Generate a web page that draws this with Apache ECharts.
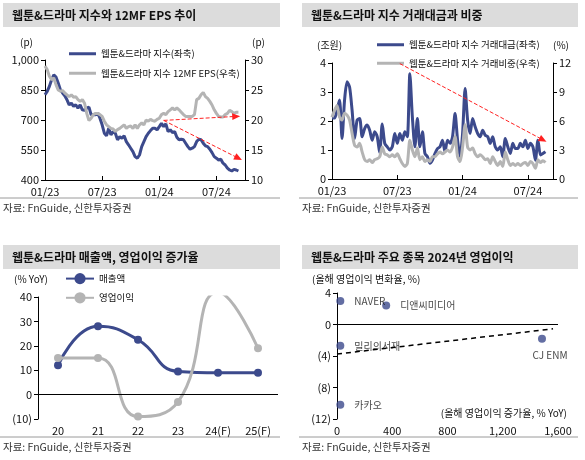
<!DOCTYPE html>
<html><head><meta charset="utf-8">
<script src="https://cdn.jsdelivr.net/npm/echarts@6/dist/echarts.min.js"></script>
<style>html,body{margin:0;padding:0;background:#fff}#c{width:585px;height:460px}</style>
</head><body><div id="c"></div>
<script>
const FONT = '"Noto Sans CJK KR","Noto Sans",sans-serif';
const BLUE = '#3c4a8c';
const GREY = '#b4b4b4';

// ---- Panel 1: weekly index (p, left) and 12MF EPS (p, right)
const p1Index = [826,843,868,901,926,915,885,851,835,821,
  801,776,784,768,776,759,776,751,748,759,
  764,726,726,726,734,709,676,634,621,659,
  626,642,634,601,617,609,621,592,576,559,
  542,517,509,525,567,592,617,634,647,659,
  659,651,667,684,667,681,642,651,637,642,
  614,601,604,601,584,567,554,559,567,592,
  604,601,584,571,567,554,537,517,509,500,
  504,484,475,459,450,445,453,450,445];
const p1Eps = [29,28.4,27.3,26.7,27,25.9,25,24.8,24.9,24.5,
  24.2,23.9,24.2,23.8,23.9,23.4,23.1,23.4,22.8,21.1,
  19.9,20.3,20.9,21.1,21.1,20.9,20.6,19.8,19.2,18.9,
  18.6,18.5,18.1,18.4,18.6,18.9,19.2,18.6,18.9,19,
  18.6,19.2,18.6,19.2,19.5,19.2,20,19.8,20.1,19.9,
  19.8,20.1,20.3,20.9,21.1,20.9,21.4,21.7,22,21.7,
  22,21.7,21.3,20.9,20.6,20.6,20.6,20.6,20.9,23.4,
  23.6,24.2,24.6,23.9,23.6,23.1,22.5,21.7,21.1,20.6,
  20.5,20.5,20.9,21.1,21.6,21.4,21.1,21.3,21.3];
const p1LeftTicks = [400,550,700,850,1000];
const p1RightTicks = [10,15,20,25,30];
const p1Names = ['웹툰&드라마 지수(좌축)','웹툰&드라마 지수 12MF EPS(우축)'];

// ---- Panel 2: weekly trading value (조원, left) and share (%, right)
const p2Amount = [2.1,2.1,2.37,2.72,1.4,2.72,3.35,3.17,2.37,1.4,
  2.03,2.09,1.46,1.74,1.86,1.68,1.34,1.63,1.46,0.9,
  1.9,1.23,1.11,1.0,1.11,1.57,1.23,1.57,1.34,1.63,
  1.46,3.63,2.14,1.11,2.09,1.11,1.63,0.88,0.77,0.54,
  0.65,0.88,1.05,1.11,1.34,0.94,1.34,1.23,1.46,2.26,
  1.34,0.77,1.57,3.12,2.03,1.57,2.09,1.8,1.57,1.46,
  1.68,1.51,1.46,1.23,1.46,1.11,1.0,1.11,0.77,1.4,
  1.11,0.88,1.23,1.05,1.05,1.23,1.11,1.34,1.05,1.23,
  1.11,0.65,1.34,0.83,0.88,0.94];
const p2Share = [6.4,7.1,7.6,6.4,6.1,6.8,6.6,6.1,4.7,3.5,
  3.3,3.7,2.8,2.0,1.8,2.0,1.7,2.0,2.1,2.3,
  3.3,2.6,2.5,2.3,2.5,2.3,2.6,2.1,1.6,1.3,
  1.6,4.0,3.0,2.3,3.2,2.0,2.3,1.8,2.0,1.8,
  2.3,2.3,2.6,2.8,2.6,2.8,3.0,2.8,3.3,4.4,
  2.3,1.8,3.3,5.6,3.3,3.0,3.2,2.6,2.3,2.5,
  2.3,2.0,2.1,1.6,2.3,1.8,1.4,1.8,1.3,2.8,
  2.0,1.4,1.6,1.4,1.6,1.4,1.6,1.7,1.4,1.8,
  1.6,1.1,2.0,1.7,1.9,1.7];
const p2Names = ['웹툰&드라마 지수 거래대금(좌축)','웹툰&드라마 지수 거래비중(우축)'];

// ---- Panel 3: YoY growth
const p3Years = ['20','21','22','23','24(F)','25(F)'];
const p3Sales = [12,28,22.5,9.5,9,9];
const p3Op = [15,15,-9,-3,42,19];
const p3Names = ['매출액','영업이익'];

// ---- Panel 4: 2024 operating profit
const p4Names = ['NAVER','디앤씨미디어','밀리의서재','CJ ENM','카카오'];
const p4Growth = [24,356,24,1484,24];
const p4Change = [3.0,2.4,-2.7,-1.8,-10.2];
const p4LabelPos = ['right','right','right','bottom','right'];

const titles = ['웹툰&드라마 지수와 12MF EPS 추이','웹툰&드라마 지수 거래대금과 비중','웹툰&드라마 매출액, 영업이익 증가율','웹툰&드라마 주요 종목 2024년 영업이익'];
const source = '자료: FnGuide, 신한투자증권';

function weeks(n){
  const out=[]; const t0=Date.UTC(2023,0,2);
  for(let i=0;i<n;i++){ out.push(new Date(t0+i*7*86400000).toISOString().slice(0,10)); }
  return out;
}
const showWeek = (idx, v) => { const p=v.split('-'); return (p[1]==='01'||p[1]==='07') && +p[2]<=7; };
const fmtWeek = v => { const p=v.split('-'); return p[1]+'/'+p[0].slice(2); };
const paren = v => v<0 ? '('+Math.abs(v)+')' : String(v);
const comma = v => v.toLocaleString('en-US');

const axisTxt = {fontFamily:FONT,fontSize:11,color:'#111'};
const blackLine = {show:true,lineStyle:{color:'#000',width:1}};

function timeX(grid, n){
  return {type:'category',gridIndex:grid,data:weeks(n),boundaryGap:false,
    axisLine:blackLine,
    axisTick:{show:true,inside:true,length:4,interval:showWeek,lineStyle:{color:'#000'}},
    axisLabel:Object.assign({interval:showWeek,formatter:fmtWeek,margin:6},axisTxt),
    splitLine:{show:false}};
}
function valY(grid, pos, min, max, interval, fmt, extra){
  return Object.assign({type:'value',gridIndex:grid,position:pos,min:min,max:max,interval:interval,
    axisLine:blackLine,axisTick:{show:true,length:4,lineStyle:{color:'#000'}},
    axisLabel:Object.assign({formatter:fmt||(v=>String(v)),margin:6},axisTxt),
    splitLine:{show:false}}, extra||{});
}

const graphics = [];
const panels = [[3,3,277],[302,3,276],[3,245,277],[302,245,276]];
panels.forEach((p,i)=>{
  graphics.push({type:'rect',shape:{x:p[0],y:p[1],width:p[2],height:24},style:{fill:'#dcdcdc'},silent:true});
  graphics.push({type:'text',x:p[0]+9,y:p[1]+12,style:{text:titles[i],fontFamily:FONT,fontSize:12,fontWeight:'bold',fill:'#111',verticalAlign:'middle'}});
  const ly = i<2 ? 198 : 437;
  graphics.push({type:'line',shape:{x1:p[0]-3,y1:ly,x2:p[0]+p[2],y2:ly},style:{stroke:'#9a9a9a',lineWidth:1},silent:true});
  graphics.push({type:'text',x:p[0],y:ly+10,style:{text:source,fontFamily:FONT,fontSize:10.5,fill:'#333',verticalAlign:'middle'}});
});
const unit = (t,x,y,align)=>({type:'text',x:x,y:y,style:{text:t,fontFamily:FONT,fontSize:10,fill:'#111',verticalAlign:'middle',align:align||'left'}});
graphics.push(unit('(p)',20,42), unit('(p)',252,42), unit('(조원)',317,45), unit('(%)',553,45),
  unit('(% YoY)',14,279), unit('(올해 영업이익 변화율, %)',312,279), unit('(올해 영업이익 증가율, % YoY)',567,413,'right'));

const arrowML = (pairs)=>({silent:true,symbol:['none','triangle'],symbolSize:[7,8],label:{show:false},animation:false,
  lineStyle:{color:'#ff2020',type:'dashed',width:1},
  data:pairs.map(pr=>[{coord:pr[0]},{coord:pr[1]}])});

const legTxt = {fontFamily:FONT,fontSize:9.5,color:'#111'};
const option = {
  animation:false,
  textStyle:{fontFamily:FONT},
  graphic:graphics,
  grid:[
    {left:45,top:60,width:200,height:120},
    {left:332,top:63,width:221,height:116},
    {left:38,top:297,width:240,height:122},
    {left:337,top:293,width:221,height:126}
  ],
  legend:[
    {orient:'vertical',left:64,top:44,icon:'rect',itemWidth:27,itemHeight:3,itemGap:10,data:p1Names,textStyle:legTxt},
    {orient:'vertical',left:372,top:35,icon:'rect',itemWidth:27,itemHeight:3,itemGap:9,data:p2Names,textStyle:legTxt},
    {orient:'vertical',left:60,top:268,itemWidth:28,itemHeight:14,itemGap:8,data:p3Names,textStyle:legTxt}
  ],
  xAxis:[
    timeX(0,92),
    timeX(1,89),
    {type:'category',gridIndex:2,data:p3Years,boundaryGap:true,axisLine:{show:false},axisTick:{show:false},
      axisLabel:Object.assign({margin:6},axisTxt),splitLine:{show:false}},
    {type:'value',gridIndex:3,min:0,max:1600,interval:400,axisLine:{show:false},axisTick:{show:false},
      axisLabel:Object.assign({formatter:comma,margin:6},axisTxt),splitLine:{show:false}}
  ],
  yAxis:[
    valY(0,'left',400,1000,null,comma,{axisLabel:Object.assign({formatter:comma,margin:6,customValues:p1LeftTicks},axisTxt),
      axisTick:{show:true,length:4,customValues:p1LeftTicks,lineStyle:{color:'#000'}}}),
    valY(0,'right',10,30,5),
    valY(1,'left',0,4,1),
    valY(1,'right',0,12,3),
    valY(2,'left',-10,40,10,paren),
    valY(3,'left',-12,4,4,paren)
  ],
  series:[
    {name:p1Names[0],type:'line',xAxisIndex:0,yAxisIndex:0,data:p1Index,symbol:'none',color:BLUE,lineStyle:{width:3,color:BLUE},
      markLine:arrowML([[[54,698],[87,718]],[[54,698],[88,509]]])},
    {name:p1Names[1],type:'line',xAxisIndex:0,yAxisIndex:1,data:p1Eps,symbol:'none',color:GREY,lineStyle:{width:3,color:GREY}},
    {name:p2Names[0],type:'line',xAxisIndex:1,yAxisIndex:2,data:p2Amount,symbol:'none',smooth:0.25,color:BLUE,lineStyle:{width:3,color:BLUE},
      markLine:arrowML([[[27,3.98],[84,1.35]]])},
    {name:p2Names[1],type:'line',xAxisIndex:1,yAxisIndex:3,data:p2Share,symbol:'none',smooth:0.25,color:GREY,lineStyle:{width:3,color:GREY}},
    {name:p3Names[0],type:'line',xAxisIndex:2,yAxisIndex:4,data:p3Sales,smooth:0.5,symbol:'circle',symbolSize:8,color:BLUE,
      lineStyle:{width:3,color:BLUE},itemStyle:{color:BLUE},
      markLine:{silent:true,symbol:'none',label:{show:false},animation:false,lineStyle:{color:'#000',type:'solid',width:1},data:[{yAxis:0}]}},
    {name:p3Names[1],type:'line',xAxisIndex:2,yAxisIndex:4,data:p3Op,smooth:0.5,symbol:'circle',symbolSize:8,color:GREY,
      lineStyle:{width:3,color:GREY},itemStyle:{color:GREY}},
    {name:'영업이익 2024',type:'scatter',xAxisIndex:3,yAxisIndex:5,symbolSize:8,itemStyle:{color:BLUE},
      data:p4Names.map((n,i)=>({name:n,value:[p4Growth[i],p4Change[i]],
        label:{show:true,position:p4LabelPos[i],distance:p4LabelPos[i]==='bottom'?8:10,offset:p4LabelPos[i]==='bottom'?[8,0]:[0,0],
          formatter:'{b}',fontFamily:FONT,fontSize:10,color:'#111'}})),
      markLine:{silent:true,symbol:'none',label:{show:false},animation:false,
        data:[{yAxis:0,lineStyle:{color:'#000',type:'solid',width:1}},
          [{coord:[0,-3.75],lineStyle:{color:'#000',type:[5,4],width:1.5}},{coord:[1564,-0.55]}]]}}
  ]
};
const chart = echarts.init(document.getElementById('c'),null,{renderer:'canvas'});
chart.setOption(option);
</script></body></html>
